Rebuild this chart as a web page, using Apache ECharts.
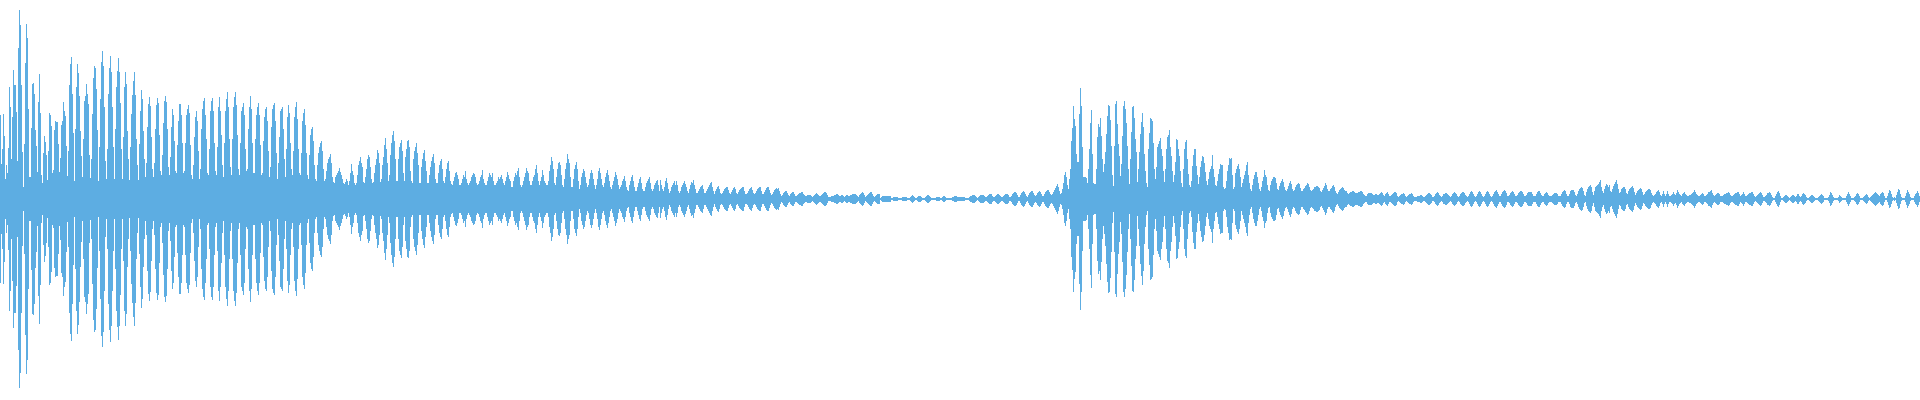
<!DOCTYPE html>
<html>
<head>
<meta charset="utf-8">
<style>html,body{margin:0;padding:0;background:#fff}#c{width:1920px;height:400px}</style>
<script src="https://cdn.jsdelivr.net/npm/echarts@6/dist/echarts.min.js"></script>
</head>
<body>
<div id="c"></div>
<script>
const burstOne = [
84,35,50,85,63,20,34,26,51,112,92,40,82,129,114,114,87,38,151,189,174,114,47,12,55,136,175,161,90,22,22,71,115,116,105,69,53,27,97,125,86,24,16,46,63,57,44,19,48,86,84,73,26,29,69,78,77,77,55,27,41,74,78,97,88,83,53,23,48,114,135,142,105,66,18,70,112,135,126,103,68,43,22,60,98,103,115,105,95,44,21,40,85,121,133,131,110,69,18,52,
100,137,148,133,92,38,20,50,
105,131,143,127,92,52,20,70,
112,128,141,127,96,50,20,62,
112,127,115,68,40,19,52,85,
104,118,127,104,60,34,19,55,
88,109,100,68,40,22,36,72,
95,102,93,62,30,22,36,70,
94,101,96,64,28,24,44,76,
98,103,97,70,32,24,42,72,
90,84,58,28,26,54,78,95,
95,84,56,26,28,56,84,90,
94,86,54,24,20,34,62,82,
88,78,48,20,30,70,90,98,
101,84,60,26,24,50,88,98,
101,88,56,28,24,52,92,102,
88,64,34,22,56,88,100,107,
92,60,32,24,60,92,102,107,
94,64,30,24,56,88,92,96,
84,50,28,30,70,92,103,90,
56,26,26,60,84,92,96,84,
54,24,26,58,82,90,92,78,
48,22,32,72,90,94,96,78,
46,20,36,62,88,90,92,70,
40,22,50,82,94,86,56,30,
24,48,82,92,97,80,50,26,
24,46,78,86,90,74,46,24,
20,44,64,70,72,58,34,20,
18,34,46,52,56,58,48,30,
18,20,28,36,40,42,45,36,
22,17,16,22,24,26,28,31
];
const burstTwo = [
27,24,20,16,15,17,20,18,
14,18,26,35,28,24,16,14,
16,24,34,38,42,36,32,17,
16,22,30,40,44,42,32,20,
16,17,26,34,40,49,46,36,
17,20,34,42,54,61,50,36,
18,24,44,56,64,68,58,40,
18,18,40,52,56,59,48,26,
18,42,50,58,59,52,28,18,
16,40,48,52,56,46,34,16,
16,32,40,46,49,38,28,16,
16,24,32,38,42,45,36,20,
16,16,26,34,38,40,30,18,
16,22,30,36,38,28,18,15,
14,18,22,26,27,24,20,14,
14,16,20,24,22,28,20,16,
14,16,18,22,24,26,25,22,
16,14,15,18,22,24,29,20,
16,14,14,18,22,26,24,22,
26,18,14,14,16,18,22,20,
22,24,20,16,14,18,22,27,
24,20,18,12,12,18,22,26,
24,28,31,22,14,12,14,18,
22,26,31,28,26,18,14,14,
18,22,24,30,34,26,18,14,
18,22,29,24,18,16,14,14,
18,28,34,42,38,30,16,14,
22,30,36,37,34,24,14,12,
20,30,36,45,40,36,22,12,
12,20,30,34,37,30,18,10,
14,22,26,30,28,22,16,12,
14,20,26,29,26,20,14,10,
14,20,28,31,26,20,14,12,
16,22,26,29,24,18,12,10,
14,18,22,27,24,20,14,10,
12,14,18,20,23,18,12,9,
8,14,18,22,24,18,12,8,
8,12,16,20,22,16,10,8,
8,12,16,18,20,22,16,10,
8,10,14,16,18,19,14,8,
19,14,10,8,12,18,21,16,
10,6,8,12,14,16,18,14,
18,14,8,6
];
const decayQuiet = [
8,12,14,16,18,15,12,8,
6,10,14,17,16,19,14,10,
6,6,8,10,12,13,14,10,
6,6,8,10,12,14,16,17,
12,8,5,8,10,12,13,10,
6,5,6,8,10,11,12,12,
9,6,5,7,9,11,12,10,
6,5,7,9,10,11,12,12,
8,5,5,6,8,10,11,12,
9,6,5,6,8,10,11,12,
12,8,5,5,7,9,11,12,
12,9,6,4,5,7,9,10,
11,10,11,8,5,3,4,6,
7,8,8,6,4,3,5,6,
7,7,5,3,3,4,5,6,
6,7,7,5,4,3,3,4,
4,4,4,3,2,3,4,5,
6,5,4,3,3,4,5,6,
7,7,6,4,2,2,2,3,
3,3,4,4,5,5,4,3,
3,4,4,3,2,3,4,4,
3,3,4,4,5,5,5,5,
4,3,2,4,5,6,7,6,
4,2,3,4,5,6,7,7,
5,3,2,3,4,5,5,5,
1,2,3,3,3,3,3,3,
3,3,3,1,1,2,2,2,
2,2,1,1,1,1,2,2,
2,2,2,1,1,1,2,3,
4,3,2,1,1,2,3,3,
3,2,1,1,1,2,3,4,
4,3,2,1,1,1,1,1,
2,2,2,2,1,1,2,3,
3,2,1,1,1,1,1,1,
2,2,3,3,3,2,2,2,
2,2,2,2,2,1,1,1,
1,2,3,3,4,4,4,3,
2,1,2,3,4,4,4,4,
3,2,2,3,4,5,5,5,
3,2,2,3,4,5,5,4,
3,2,2,3,4,5,5,5,
4,2,2,3,5,6,7,7,
6,4,2,2,4,6,7,8,
7,5,3,2,4,6,7,8,
8,6,4,3,4,6,7,8,
7,5,3,3,5,7,8,9,
9,7,5,4,5,7,9,11,
13,15,12,8,5,6,10,16
];
const burstThree = [
24,27,22,14,10,20,30,58,
71,93,80,73,45,37,37,85,
111,93,52,22,22,22,21,16,
30,50,76,89,45,16,15,15,
30,62,75,72,81,63,40,27,
35,47,65,83,94,93,79,53,
24,13,53,95,98,75,55,43,
23,35,63,93,98,90,76,53,
30,15,40,67,92,93,81,60,
47,17,30,47,65,77,86,72,
45,28,16,12,50,66,81,80,
78,56,30,20,32,52,55,58,
61,50,43,28,17,30,50,62,
64,69,52,43,28,17,24,37,
60,59,50,43,28,16,12,30,
50,57,59,40,25,14,12,18,
33,44,50,50,33,24,15,22,
32,38,43,42,36,27,18,14,
20,27,30,33,44,30,22,14,
13,18,25,30,35,34,34,12,
10,11,18,28,34,41,40,41,
24,10,12,26,30,33,35,30,
22,12,16,20,24,28,34,37,
24,16,10,8,14,20,24,27,
27,22,16,10,8,12,18,22,
29,24,22,14,9,8,14,18,
20,22,22,21,16,10,9,13,
16,18,20,17,12,9,8,10,
13,16,18,15,10,8,9,12,
14,15,16,15,11,8,8,10,
11,13,14,16,15,12,9,8,
9,10,12,12,13,13,12,11,
8,7,9,11,13,16,14,10,
8,8,10,11,13,14,12,8,
6,5,7,9,10,11,12,11,
9,8,8,6,5,6,7,7,
8,8,7,6,6,6,7,7,
8,8,7,5,4,3,3,5,
6,6,6,6,5,4,4,5,
5,4,4,5
];
const tailOne = [
6,7,6,4,3,5,6,7,
5,3,3,4,5,6,7,7,
6,3,2,3,4,5,5,6,
5,3,2,3,4,5,5,6,
5,3,2,2,2,3,3,3,
4,4,3,2,2,3,4,5,
6,6,5,4,2,2,3,5,
6,7,6,4,3,2,3,5,
5,6,6,5,4,3,2,3,
5,6,7,6,5,3,2,3,
5,6,7,7,6,4,3,2,
3,5,7,8,7,5,3,2,
3,5,7,8,7,5,3,2,
3,5,7,8,7,5,3,2,
3,5,7,8,9,7,5,3,
3,5,7,8,9,8,6,3,
3,4,6,7,8,7,5,3,
3,4,6,7,8,8,7,5,
3,3,4,6,7,7,7,7,
5,3,3,3,5,7,8,8,
6,4,3,3,5,6,7,6,
4,3,3,3,4,5,6,6,
6,5,3,3,3,5,7,8,
9,8,5,3,3,5,8,9,
9,9,7,4,3,5,8,10,
11,12,11,8,4,3,7,10,
12,13,14,12,7,4,8,12,
13,14,15,17,19,12,8,6,
10,13,15,14,12,14,8,7,
10,13,15,17,19,15,10,6,
7,10,11,12,12,10,6,5,
8,10,11,12,13,11,7,4,
6,8,9,10,11,10,7,4,
5,7,8,9,10,10
];
const tailTwo = [
9,6,4,3,4,5,7,8,9,7,
4,3,5,8,5,3,5,8,5,3,
3,4,5,7,5,4,6,9,7,5,
4,3,5,6,7,5,4,3,3,4,
4,5,6,7,9,7,5,4,3,3,
4,5,6,5,3,3,4,5,7,7,
8,9,6,4,3,4,5,6,6,5,
3,3,3,4,5,5,6,6,7,6,
4,3,3,4,5,6,6,7,7,5,
3,4,5,7,5,3,3,4,5,6,
6,7,7,5,3,2,3,4,5,6,
7,6,4,2,2,3,4,6,6,7,
6,4,2,1,1,3,5,7,8,6,
3,1,1,2,3,4,4,3,2,1,
2,3,4,4,3,2,3,5,5,3,
2,3,5,6,5,4,2,1,1,2,
3,4,4,3,2,1,1,1,2,3,
4,5,4,3,1,1,1,1,2,4,
7,6,4,2,1,1,1,1,2,4,
3,2,1,1,1,1,3,5,7,5,
3,1,1,1,2,3,5,6,5,3,
1,1,1,2,3,4,5,4,2,1,
2,3,4,5,6,7,6,5,4,3,
5,6,7,6,3,1,1,3,6,9,
8,5,2,1,2,1,4,7,10,9,
5,2,1,1,1,3,6,9,7,5,
2,1,1,1,3,5,6,8,6,3
];
const amplitude = [].concat(burstOne, burstTwo, decayQuiet, burstThree, tailOne, tailTwo);
const samples = amplitude.map((_, i) => i);
const WAVE_COLOR = '#5DADE2';
const chart = echarts.init(document.getElementById('c'), null, {renderer: 'canvas'});
const bar = (data) => ({
  type: 'bar', data, barWidth: 1, barGap: '-100%', barCategoryGap: 0, silent: true,
  itemStyle: {color: WAVE_COLOR}, animation: false
});
chart.setOption({
  animation: false,
  backgroundColor: '#ffffff',
  grid: {left: 0, right: 0, top: 0, bottom: 2},
  xAxis: {type: 'category', data: samples, show: false},
  yAxis: {type: 'value', min: -199, max: 199, show: false},
  series: [bar(amplitude), bar(amplitude.map(v => -v))]
});
</script>
</body>
</html>
